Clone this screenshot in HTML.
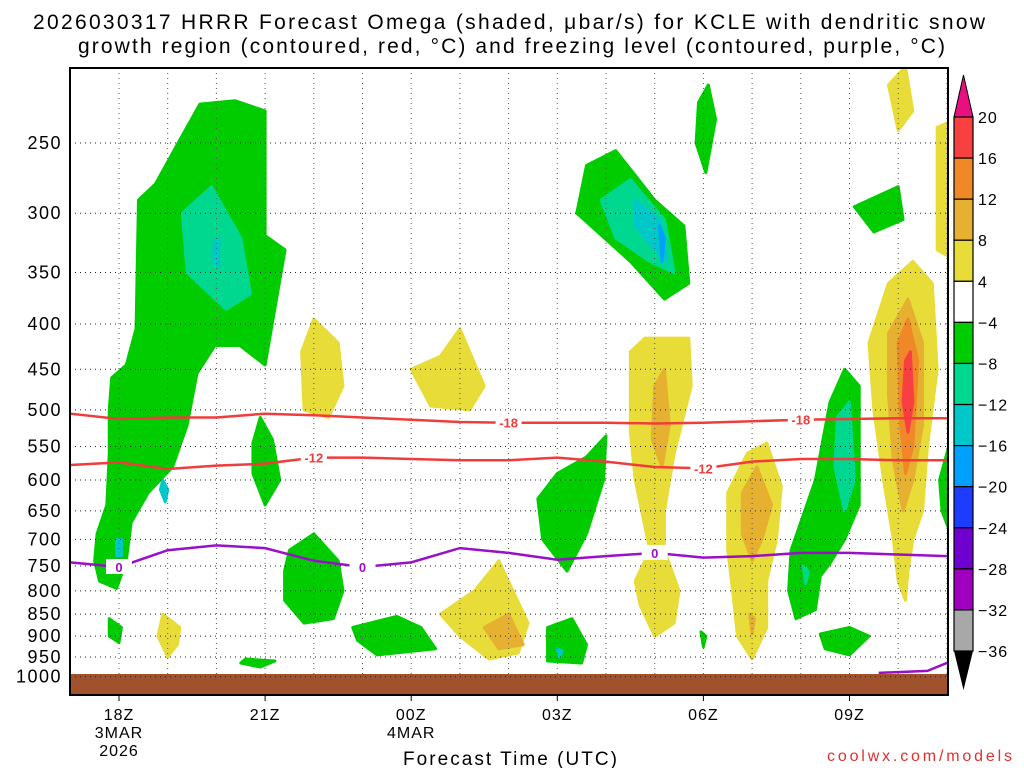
<!DOCTYPE html>
<html><head><meta charset="utf-8"><style>
body{margin:0;background:#fff;width:1024px;height:768px;overflow:hidden}
svg text{font-family:"Liberation Sans",sans-serif}
</style></head><body>
<svg id="chart" width="1024" height="768" xmlns="http://www.w3.org/2000/svg">
<text x="33" y="29" font-size="21" textLength="952" lengthAdjust="spacing">2026030317 HRRR Forecast Omega (shaded, μbar/s) for KCLE with dendritic snow</text>
<text x="78" y="53" font-size="21" textLength="867" lengthAdjust="spacing">growth region (contoured, red, °C) and freezing level (contoured, purple, °C)</text>
<g id="plot"></g>
<text x="403" y="765" font-size="19" textLength="214" lengthAdjust="spacing">Forecast Time (UTC)</text>
<text x="827" y="761" font-size="16" fill="#e03030" textLength="185" lengthAdjust="spacing">coolwx.com/models</text>
</svg>
<script>
const hours=[-1,0,1,2,3,4,5,6,7,8,9,10,11,12,13,14,15,16,17];
const iso18=[505,512,510,510,505,507,510,513,516,517,517,517,518,517,515,513,512,511,511];
const iso12=[577,573,583,578,575,566,566,568,570,570,566,572,580,582,572,568,568,570,570];
const iso0=[743,752,720,711,716,740,752,743,716,725,738,731,725,734,731,725,725,728,731];
const pLevels=[250,300,350,400,450,500,550,600,650,700,750,800,850,900,950,1000];
const timeTicks=[0,3,6,9,12,15];
const timeLabels=[["18Z","3MAR","2026"],["21Z"],["00Z","4MAR"],["03Z"],["06Z"],["09Z"]];
const cbLevels=["20","16","12","8","4","−4","−8","−12","−16","−20","−24","−28","−32","−36"];
const cbColors=["#f84040","#f08828","#e6b030","#e8dc38","#ffffff","#00cc00","#00d890","#00c8c8","#00a0ff","#1c3cff","#7000d0","#a000c0","#a8a8a8"];
const Y="#e8dc38",G="#00cc00",T="#00d890",C="#00c8c8",B="#00a0ff",O="#e6b030",OR="#f08828",R="#f84040";
const shapes=[
 [G,[[1.25,248],[1.66,226],[2.38,224],[3.0,230],[3.0,318],[3.41,330],[3.0,445],[2.48,423],[1.97,423],[1.6,455],[1.4,520],[1.1,580],[0.6,620],[0.25,670],[0.15,740],[-0.05,795],[-0.4,780],[-0.5,740],[-0.45,690],[-0.25,640],[-0.2,560],[-0.2,500],[-0.15,460],[0.15,445],[0.35,405],[0.4,290],[0.75,278]]],
 [T,[[1.3,300],[1.9,280],[2.5,320],[2.7,370],[2.2,385],[1.4,350]]],
 [C,[[1.95,325],[2.05,320],[2.05,345],[1.95,340]]],
 [C,[[-0.05,700],[0.05,700],[0.05,730],[-0.05,730]]],
 [C,[[0.9,600],[1.0,615],[0.95,635],[0.85,615]]],
 [G,[[2.9,510],[3.15,540],[3.3,600],[3.0,640],[2.75,590],[2.75,545]]],
 [G,[[-0.2,860],[0.05,880],[0.0,915],[-0.2,900]]],
 [G,[[2.6,955],[3.2,960],[2.9,975],[2.5,965]]],
 [G,[[3.5,720],[4.0,690],[4.5,740],[4.6,800],[4.4,860],[3.8,870],[3.4,820],[3.4,760]]],
 [G,[[4.8,880],[5.7,855],[6.2,880],[6.5,930],[5.3,945],[4.9,910]]],
 [Y,[[4.0,395],[4.5,420],[4.6,470],[4.3,510],[3.8,500],[3.75,430]]],
 [Y,[[6.0,450],[6.6,435],[7.0,405],[7.5,470],[7.2,500],[6.4,495]]],
 [Y,[[6.6,850],[7.3,800],[7.8,740],[8.4,870],[8.2,940],[7.6,955],[7.0,900]]],
 [O,[[7.5,880],[8.0,850],[8.3,920],[7.8,930]]],
 [Y,[[0.9,850],[1.25,880],[1.2,920],[1.0,950],[0.8,900]]],
 [G,[[8.6,630],[9.0,590],[9.6,565],[10.0,535],[9.95,600],[9.6,690],[9.2,760],[8.7,700]]],
 [G,[[8.8,880],[9.3,860],[9.6,920],[9.5,965],[8.8,960]]],
 [C,[[9.0,930],[9.1,935],[9.05,950]]],
 [G,[[9.4,300],[9.6,265],[10.2,255],[11.0,290],[11.6,310],[11.7,360],[11.2,375],[10.5,340]]],
 [T,[[9.9,290],[10.5,275],[11.2,305],[11.4,350],[10.9,340],[10.2,320]]],
 [C,[[10.6,290],[11.1,305],[11.25,340],[10.9,325],[10.6,310]]],
 [B,[[11.1,310],[11.2,320],[11.15,340]]],
 [G,[[11.9,225],[12.1,215],[12.25,235],[12.05,270],[11.85,250]]],
 [Y,[[10.5,430],[10.8,415],[11.7,415],[11.75,470],[11.4,560],[11.2,650],[11.2,720],[11.5,800],[11.4,870],[11.0,900],[10.7,830],[10.6,780],[10.9,720],[10.6,600],[10.5,530]]],
 [O,[[11.0,470],[11.2,450],[11.3,520],[11.15,580],[10.95,540]]],
 [G,[[11.95,890],[12.05,900],[12.0,925]]],
 [Y,[[12.5,620],[12.9,560],[13.3,545],[13.6,610],[13.5,700],[13.3,780],[13.3,880],[13.0,955],[12.7,900],[12.6,800],[12.5,720]]],
 [O,[[12.8,620],[13.1,580],[13.4,640],[13.2,700],[13.0,740],[12.8,690]]],
 [O,[[12.95,850],[13.05,860],[13.0,895]]],
 [G,[[13.8,720],[14.3,600],[14.6,490],[14.9,450],[15.2,470],[15.2,640],[14.9,700],[14.6,745],[14.4,770],[14.3,840],[13.9,860],[13.75,800]]],
 [T,[[14.75,510],[15.0,490],[15.1,600],[14.9,650],[14.7,580]]],
 [T,[[14.05,750],[14.15,760],[14.1,785]]],
 [G,[[14.4,895],[15.0,880],[15.4,900],[15.0,945],[14.5,930]]],
 [G,[[15.1,295],[16.0,280],[16.1,305],[15.5,315]]],
 [Y,[[15.8,215],[16.15,205],[16.3,230],[16.0,242]]],
 [Y,[[15.4,420],[15.8,360],[16.3,340],[16.7,360],[16.8,450],[16.6,550],[16.5,650],[16.3,700],[16.2,760],[16.15,820],[16.0,780],[15.9,700],[15.7,600],[15.5,500]]],
 [O,[[15.8,410],[16.2,375],[16.5,420],[16.5,520],[16.3,600],[16.1,650],[15.9,570],[15.8,480]]],
 [OR,[[16.0,420],[16.2,395],[16.4,440],[16.3,550],[16.15,590],[16.05,520]]],
 [R,[[16.15,440],[16.25,430],[16.3,490],[16.2,530],[16.1,490]]],
 [Y,[[16.8,240],[17.2,235],[17.2,340],[16.8,330]]],
 [G,[[16.85,600],[17.2,510],[17.2,720],[16.9,650]]]
];
const X0=70,X1=948,Yt=68,Yb=695;
const xs=h=>119+48.7*h;
const ys=p=>143+385*Math.log(p/250);
const NS="http://www.w3.org/2000/svg";
const plot=document.getElementById('plot');
const svg=document.getElementById('chart');
function mk(tag,attrs,parent){const e=document.createElementNS(NS,tag);for(const k in attrs)e.setAttribute(k,attrs[k]);(parent||plot).appendChild(e);return e;}
mk('rect',{x:X0,y:Yt,width:X1-X0,height:Yb-Yt,fill:'#fff'});
const cp=mk('clipPath',{id:'clip'});mk('rect',{x:X0,y:Yt,width:X1-X0,height:Yb-Yt},cp);
const g=mk('g',{'clip-path':'url(#clip)'});
shapes.forEach((s,i)=>{
 const e=mk('polygon',{points:s[1].map(q=>xs(q[0])+','+ys(q[1])).join(' '),fill:s[0],stroke:s[0],'stroke-linejoin':'round','stroke-width':3},g);
 
 
});
const ter=mk('rect',{x:X0,y:674,width:X1-X0,height:Yb-674,fill:'#a0522d'},g);


for(let h=-1;h<=17;h++){const l=mk('line',{x1:xs(h),x2:xs(h),y1:Yt,y2:674,stroke:'#555','stroke-dasharray':'1 4','stroke-width':1},g);
 
 }
pLevels.forEach(p=>{const l=mk('line',{x1:X0,x2:X1,y1:ys(p),y2:ys(p),stroke:'#222','stroke-dasharray':'1 4','stroke-width':1},g);
 
 
 const t=mk('text',{x:62,y:ys(p)+6,'font-size':18,'text-anchor':'end','letter-spacing':1.5});t.textContent=p;
 
 });
function line(vals,color,name,labels,lab){
 const e=mk('polyline',{points:hours.map((h,i)=>xs(h)+','+ys(vals[i])).join(' '),fill:'none',stroke:color,'stroke-width':2.5},g);
 
 
 labels.forEach(h=>{const i=hours.indexOf(h);const x=xs(h),y=ys(vals[i]);
  mk('rect',{x:x-13,y:y-8,width:26,height:15,fill:'#fff'},g);
  const t=mk('text',{x:x,y:y+5,'font-size':13,'font-weight':'bold',fill:color,'text-anchor':'middle'},g);t.textContent=lab;
  
  });
}
line(iso18,'#f03c3c','isotherm-minus18',[8,14],'-18');
line(iso12,'#f03c3c','isotherm-minus12',[4,12],'-12');
line(iso0,'#9a10c8','freezing-level',[0,5,11],'0');
const fz=mk('polyline',{points:[[15.6,990],[16.6,985],[17.2,955]].map(q=>xs(q[0])+','+ys(q[1])).join(' '),fill:'none',stroke:'#9a10c8','stroke-width':2.5},g);


mk('rect',{x:X0,y:Yt,width:X1-X0,height:Yb-Yt,fill:'none',stroke:'#000','stroke-width':2});
timeTicks.forEach((h,i)=>{mk('line',{x1:xs(h),x2:xs(h),y1:Yb,y2:Yb+6,stroke:'#000'});
 timeLabels[i].forEach((s,j)=>{const t=mk('text',{x:xs(h),y:720+j*18,'font-size':16,'text-anchor':'middle','letter-spacing':1});t.textContent=s;
  
  });});
// colorbar
const cb=mk('g',{},svg);


const cx=954,cw=19,ct=117,step=(651-117)/13;
mk('polygon',{points:`${cx},${ct} ${cx+cw},${ct} ${cx+cw/2},75`,fill:'#e8107e',stroke:'#000'},cb);
cbColors.forEach((c,i)=>{mk('rect',{x:cx,y:ct+i*step,width:cw,height:step,fill:c,stroke:'#000','stroke-width':1.2},cb);});
mk('polygon',{points:`${cx},651 ${cx+cw},651 ${cx+cw/2},690`,fill:'#000'},cb);
cbLevels.forEach((s,i)=>{const t=mk('text',{x:978,y:ct+i*step+6,'font-size':16,'letter-spacing':1},cb);t.textContent=s;
 
 });
</script>
</body></html>
